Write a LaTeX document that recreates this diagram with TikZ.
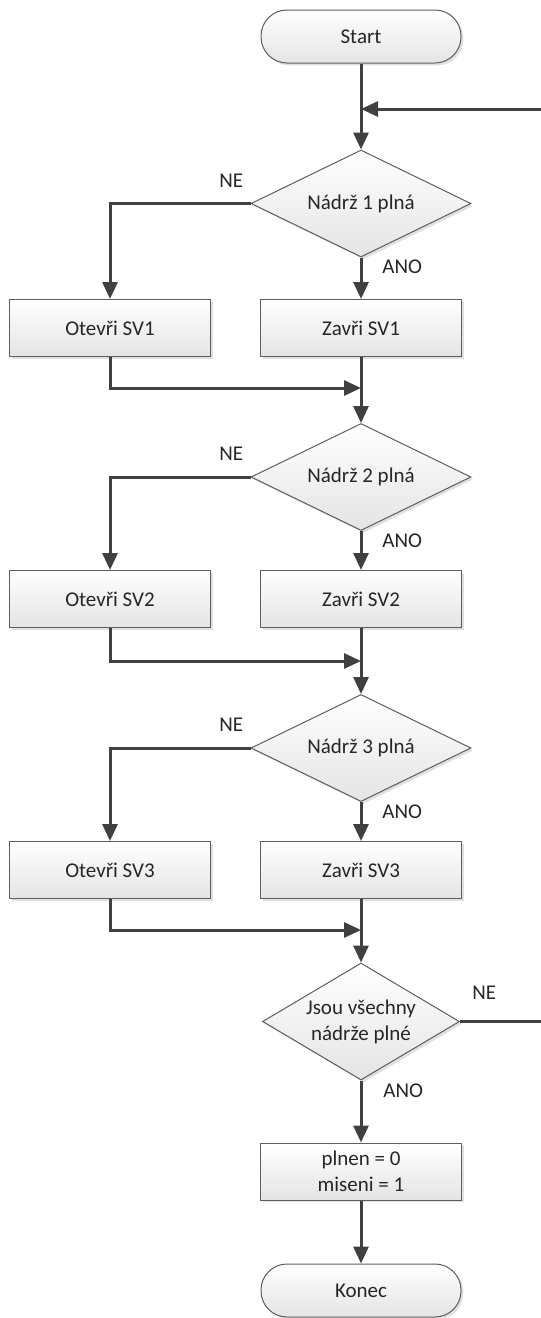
\documentclass[tikz,border=0pt]{standalone}
\usepackage{fontspec}
\setmainfont{Carlito}
\usetikzlibrary{arrows.meta,positioning,shapes.geometric,shadows}
\definecolor{flowline}{HTML}{404040}
\definecolor{flowedge}{HTML}{5E5E5E}
\definecolor{flowfill}{HTML}{E4E4E4}

\begin{document}
\begin{tikzpicture}[
  x=0.5pt, y=-0.5pt,
  font=\fontsize{10.5}{13}\selectfont,
  shapebase/.style={draw=flowedge, line width=0.5pt, top color=white, bottom color=flowfill,
             text=black!85, align=center, inner sep=0pt,
             drop shadow={shadow xshift=1.2pt, shadow yshift=-1.2pt, fill=black, opacity=0.12}},
  term/.style={shapebase, rectangle, rounded corners=13pt, minimum width=100pt, minimum height=26.5pt},
  act/.style={shapebase, rectangle, minimum width=100.5pt, minimum height=28.5pt},
  test/.style={shapebase, diamond, aspect=1.7, minimum width=110pt, minimum height=53.5pt},
  lbl/.style={text=black!85, inner sep=0pt},
  arr/.style={-{Triangle[length=8.5pt, width=7.5pt]}, draw=flowline, line width=1.5pt},
]
\useasboundingbox (0,0) rectangle (541,1318);

% Main column: start, three tanks, final test, end.
\node[term] (start) at (361,36.5) {Start};
\node[test] (D1) at (361,203.5) {Nádrž 1 plná};
\node[act] (Z1) at (361,328) {Zavři SV1};
\node[act, left=24.5pt of Z1] (O1) {Otevři SV1};
\coordinate (M1) at (361,388);

\node[test] (D2) at (361,477) {Nádrž 2 plná};
\node[act] (Z2) at (361,599) {Zavři SV2};
\node[act, left=24.5pt of Z2] (O2) {Otevři SV2};
\coordinate (M2) at (361,661);

\node[test] (D3) at (361,748) {Nádrž 3 plná};
\node[act] (Z3) at (361,870) {Zavři SV3};
\node[act, left=24.5pt of Z3] (O3) {Otevři SV3};
\coordinate (M3) at (361,930);

\node[test, minimum width=98.5pt, minimum height=58.5pt] (D4) at (361,1021.5) {Jsou všechny\\nádrže plné};
\node[act] (set) at (361,1171.5) {plnen = 0\\miseni = 1};
\node[term] (stop) at (361,1290.5) {Konec};

% Loop back to the top when not all tanks are full.
\coordinate (back) at (361,109);
\coordinate (edge) at (548,109);

\draw[arr] (start) -- (D1);
\draw[arr] (D1) -- (Z1);
\draw[arr] (D1.west) -| (O1);
\draw[arr] (O1.south) |- (M1);
\draw[arr] (Z1) -- (D2);
\draw[arr] (D2) -- (Z2);
\draw[arr] (D2.west) -| (O2);
\draw[arr] (O2.south) |- (M2);
\draw[arr] (Z2) -- (D3);
\draw[arr] (D3) -- (Z3);
\draw[arr] (D3.west) -| (O3);
\draw[arr] (O3.south) |- (M3);
\draw[arr] (Z3) -- (D4);
\draw[arr] (D4) -- (set);
\draw[arr] (set) -- (stop);
\draw[arr] (D4.east) -| (edge) -- (back);

% Branch labels.
\foreach \d in {D1,D2,D3}{
  \node[lbl, anchor=south east, xshift=-3.5pt, yshift=8pt] at (\d.west) {NE};
  \node[lbl, anchor=north west, xshift=10.5pt, yshift=-1pt] at (\d.south) {ANO};
}
\node[lbl, anchor=south west, xshift=6pt, yshift=11pt] at (D4.east) {NE};
\node[lbl, anchor=north west, xshift=11pt, yshift=-1.5pt] at (D4.south) {ANO};

\end{tikzpicture}
\end{document}
